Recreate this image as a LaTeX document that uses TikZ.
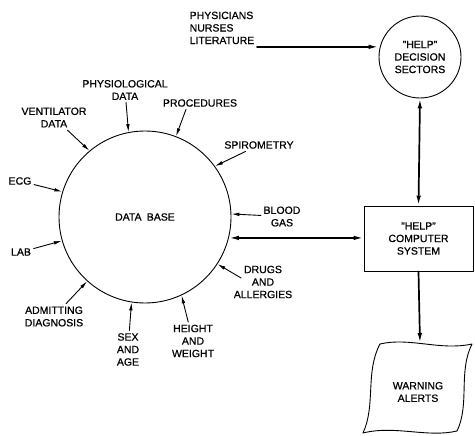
\documentclass[tikz,border=0pt]{standalone}
\usepackage{fontspec}
\setmainfont{Liberation Sans}[FakeBold=0.7]
\usetikzlibrary{arrows.meta, positioning}

\begin{document}
\begin{tikzpicture}[x=1pt, y=-1pt, line cap=round, line join=round,
                    font=\fontsize{10.5}{12.5}\selectfont,
                    lbl/.style={align=center, inner sep=2.5pt},
                    feed/.style={-{Latex[length=8pt, width=3.6pt]}, line width=0.9pt},
                    main/.style={line width=1.7pt, -{Latex[length=10pt, width=4.6pt]}}]
\useasboundingbox (0,0) rectangle (475,436);

% Nodes
\node[draw, circle, line width=0.9pt, minimum size=172pt, inner sep=0pt] (DB) at (145,217) {DATA\enspace BASE};
\node[draw, circle, line width=0.9pt, minimum size=82pt, inner sep=0pt, align=center] (Dec) at (420,57) {"HELP"\\DECISION\\SECTORS};
\node[draw, line width=0.9pt, minimum width=109pt, minimum height=65pt, align=center] (Sys) at (418.5,238.5) {"HELP"\\COMPUTER\\SYSTEM};
\node[align=left, anchor=north west, inner sep=2.5pt] (Src) at (187,9) {PHYSICIANS\\NURSES\\LITERATURE};

% Warning alerts sheet
\draw[line width=0.9pt] (380,344) .. controls (410,337) and (440,351) .. (472,344)
  .. controls (458,372) and (470,404) .. (457,431)
  .. controls (427,438) and (395,425) .. (363,433)
  .. controls (376,405) and (365,372) .. (380,344) -- cycle;
\node[lbl] (Warn) at (418,392) {WARNING\\ALERTS};
\coordinate (WarnTop) at (420,343);

% Data labels
\node[lbl] (Phys) at (125,90) {PHYSIOLOGICAL\\DATA};
\node[lbl] (Vent) at (54,117.5) {VENTILATOR\\DATA};
\node[lbl] (Proc) at (200,103) {PROCEDURES};
\node[lbl] (Spiro) at (259,145) {SPIROMETRY};
\node[lbl] (Blood) at (282,216.5) {BLOOD\\GAS};
\node[lbl] (Drugs) at (263,282) {DRUGS\\AND\\ALLERGIES};
\node[lbl] (Height) at (193,341) {HEIGHT\\AND\\WEIGHT};
\node[lbl] (Sex) at (128,349.5) {SEX\\AND\\AGE};
\node[lbl] (Admit) at (54,316.5) {ADMITTING\\DIAGNOSIS};
\node[lbl] (Lab) at (21,252) {LAB};
\node[lbl] (ECG) at (20,181) {ECG};

% Connections
\draw[feed] (Phys) -- (DB.101);
\draw[feed] (Vent) -- (DB.130);
\draw[feed] ([xshift=-14pt]Proc.south) -- (DB.69);
\draw[feed] (Spiro) -- (DB.36);
\draw[feed] (Blood) -- (DB.2);
\draw[feed] ([xshift=10pt, yshift=4pt]Drugs.west) -- (DB.-33);
\draw[feed] (Height) -- (DB.-65);
\draw[feed] (Sex) -- (DB.-99);
\draw[feed] (Admit) -- (DB.-132);
\draw[feed] (Lab) -- (DB.-164);
\draw[feed] (ECG) -- (DB.163);

\draw[main] (Src.south east) -- (Src.south east -| Dec.west);
\draw[main, {Latex[length=10pt, width=4.6pt]}-{Latex[length=10pt, width=4.6pt]}] (DB.-14) -- (DB.-14 -| Sys.west);
\draw[main, {Latex[length=10pt, width=4.6pt]}-{Latex[length=10pt, width=4.6pt]}] (Dec.south) -- (Sys.north);
\draw[main] (Sys.south) -- (WarnTop);

\end{tikzpicture}
\end{document}
